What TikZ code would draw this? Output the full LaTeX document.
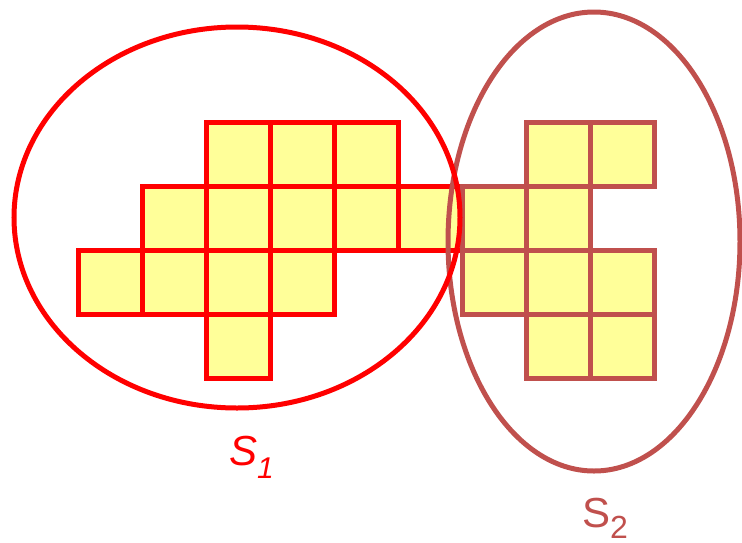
\documentclass[tikz,border=0pt]{standalone}
\usepackage{fontspec}
\setmainfont{Liberation Sans}
\definecolor{sred}{HTML}{FF0000}
\definecolor{sbrown}{HTML}{C0504D}
\definecolor{cellfill}{HTML}{FFFF99}
\tikzset{
  cellred/.style={draw=sred, fill=cellfill, line width=5pt},
  cellbrown/.style={draw=sbrown, fill=cellfill, line width=5pt},
  setline/.style={line width=5pt, fill=none},
  lbl/.style={inner sep=0pt, anchor=base west, font=\fontsize{42}{42}\selectfont}
}
\begin{document}
\begin{tikzpicture}[x=1pt,y=-1pt]
\useasboundingbox (0,0) rectangle (742,542);
% red cells (S1)
\foreach \x/\y in {206/122,270/122,334/122,
                   142/186,206/186,270/186,334/186,398/186,
                   78/250,142/250,206/250,270/250,
                   206/314}
  \draw[cellred] (\x,\y) rectangle ++(64,64);
% brown cells (S2)
\foreach \x/\y in {526/122,590/122,
                   462/186,526/186,
                   462/250,526/250,590/250,
                   526/314,590/314}
  \draw[cellbrown] (\x,\y) rectangle ++(64,64);
% set ellipses
\draw[setline, draw=sbrown] (594,241.5) ellipse [x radius=146, y radius=229.5];
\draw[setline, draw=sred] (237,217.5) ellipse [x radius=223, y radius=190.5];
% labels
\node[lbl, text=sred] (s1) at (229,465) {\itshape S\raisebox{-13pt}{\fontsize{30}{30}\selectfont 1}};
\node[lbl, text=sbrown] (s2) at (582,527) {S\raisebox{-11pt}{\fontsize{32}{32}\selectfont 2}};
\end{tikzpicture}
\end{document}
